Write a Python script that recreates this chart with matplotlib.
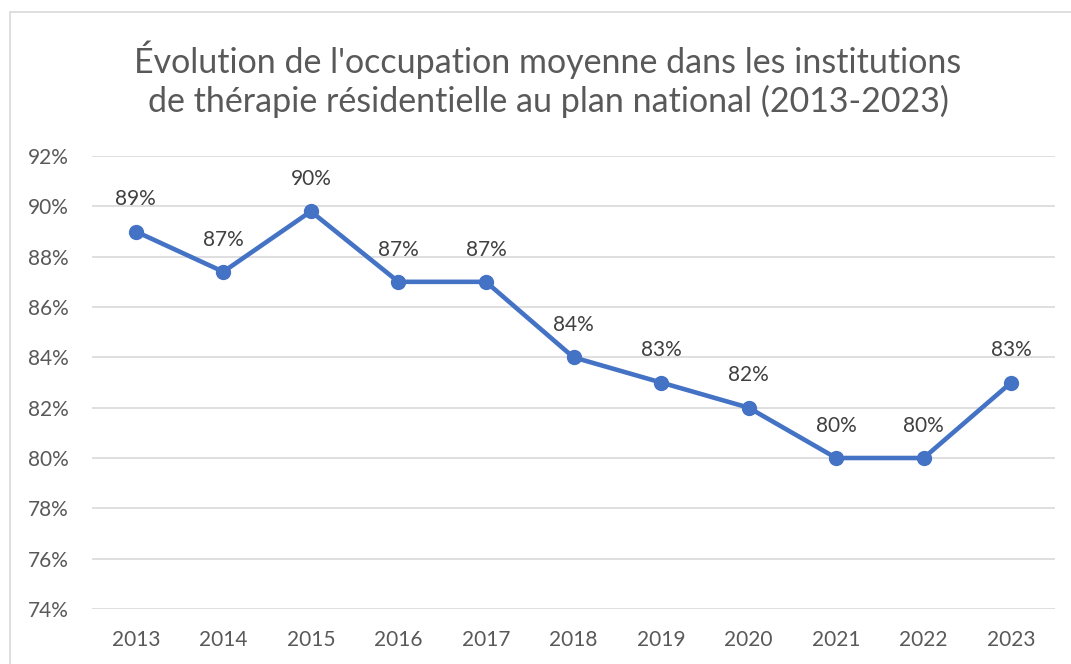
import matplotlib.pyplot as plt
from matplotlib.patches import Rectangle

years = ['2013', '2014', '2015', '2016', '2017', '2018', '2019', '2020', '2021', '2022', '2023']
occupation = [89.0, 87.4, 89.8, 87.0, 87.0, 84.0, 83.0, 82.0, 80.0, 80.0, 83.0]
labels = ['89%', '87%', '90%', '87%', '87%', '84%', '83%', '82%', '80%', '80%', '83%']
yticks = [74, 76, 78, 80, 82, 84, 86, 88, 90, 92]

plt.rcParams['font.family'] = ['Lato', 'DejaVu Sans']

fig = plt.figure(figsize=(10.71, 6.64), dpi=100)
fig.patches.append(Rectangle((10 / 1071, -0.1), 1.2, 1.1 - 12 / 664,
                             transform=fig.transFigure, fill=False,
                             edgecolor='#d9d9d9', linewidth=1.2))

ax = fig.add_axes([92 / 1071, 1 - 609 / 664, 963 / 1071, 453 / 664])
x = list(range(len(years)))
ax.plot(x, occupation, color='#4472C4', linewidth=3.3, marker='o',
        markersize=10, solid_capstyle='round', zorder=3)

for xi, v, lab in zip(x, occupation, labels):
    ax.annotate(lab, (xi, v), xytext=(0, 16), textcoords='offset points',
                ha='center', va='bottom', fontsize=15, color='#404040')

ax.set_xlim(-0.5, len(years) - 0.5)
ax.set_ylim(74, 92)
ax.set_yticks(yticks)
ax.set_yticklabels([f'{t}%' for t in yticks])
ax.set_xticks(x)
ax.set_xticklabels(years)
ax.tick_params(length=0, labelsize=15, labelcolor='#595959')
ax.tick_params(axis='y', pad=17)
ax.tick_params(axis='x', pad=15)
ax.grid(axis='y', color='#d9d9d9', linewidth=1.2)
ax.set_axisbelow(True)
for s in ax.spines.values():
    s.set_visible(False)

fig.text(548 / 1071, 1 - 79 / 664,
         "Évolution de l'occupation moyenne dans les institutions\n"
         "de thérapie résidentielle au plan national (2013-2023)",
         ha='center', va='center', fontsize=24.5, color='#595959', linespacing=1.2)

fig.savefig('out.png', dpi=100)
